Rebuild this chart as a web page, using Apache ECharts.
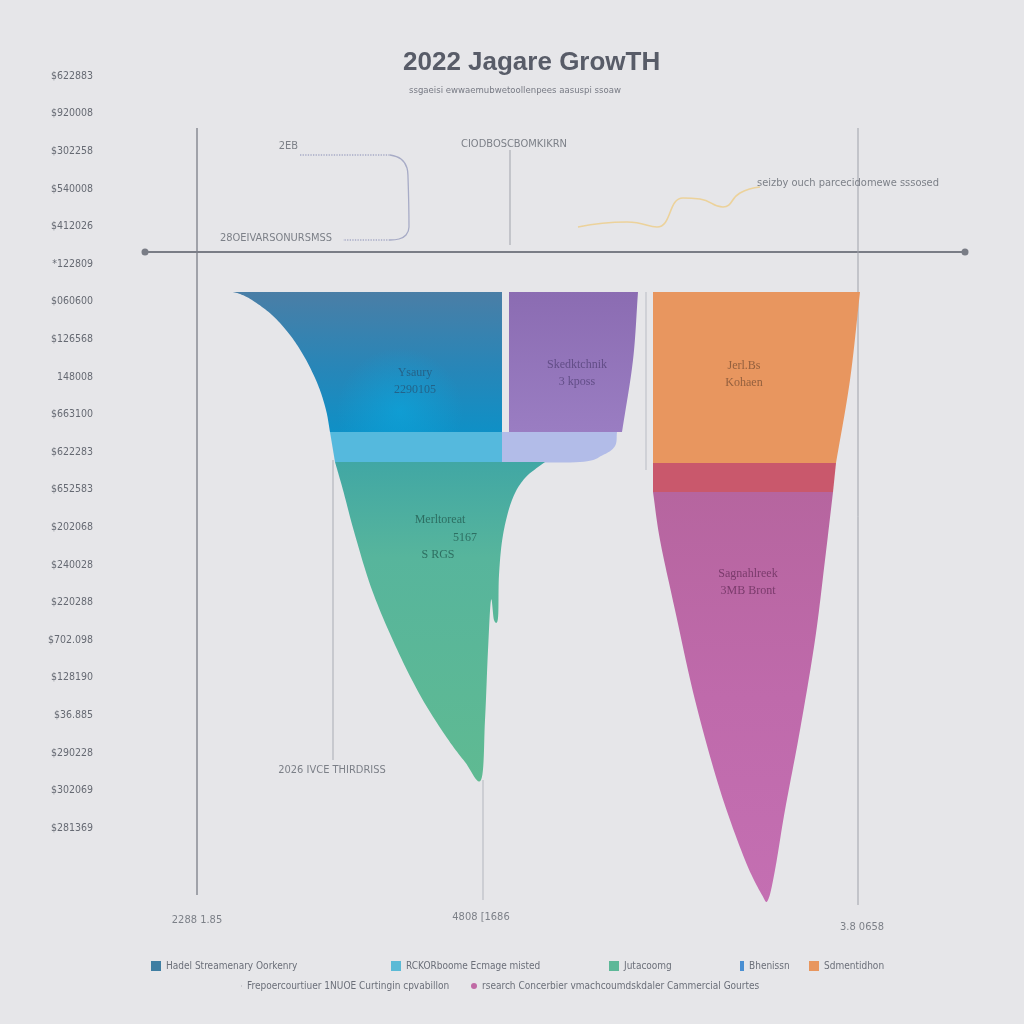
<!DOCTYPE html>
<html><head><meta charset="utf-8">
<script src="https://cdn.jsdelivr.net/npm/echarts@6/dist/echarts.min.js"></script>
<style>html,body{margin:0;padding:0;background:#e6e6e9;}#c{width:1024px;height:1024px;}</style>
</head><body><div id="c"></div>
<script>
// ---- data (x: 0..820 units across plot, y: units above/below baseline) ----
const yLabels = ["$622883","$920008","$302258","$540008","$412026","*122809","$060600","$126568","148008","$663100",
  "$622283","$652583","$202068","$240028","$220288","$702.098","$128190","$36.885","$290228","$302069","$281369"];

const shapeBlue = [[88,-40],[357,-40],[357,-180],[185,-180],[181,-158],[173,-133],[160,-106],[145,-83],[127,-63],[107,-48],[95,-42]];
const bandCyan = [[185,-180],[357,-180],[357,-210],[190,-210]];
const bandLavender = [[357,-180],[472,-180],[470,-194],[458,-203],[435,-210],[357,-210]];
const shapePurple = [[364,-40],[493,-40],[488,-108],[477,-180],[364,-180]];
const shapeGreen = [[400,-210],[380,-226],[367,-248],[358,-283],[354,-323],[353,-366],[349,-368],[346,-348],[343,-398],[340,-468],[336,-528],
  [320,-510],[300,-483],[275,-443],[250,-393],[227,-338],[210,-283],[198,-238],[190,-210]];
const shapeOrange = [[508,-40],[715,-40],[705,-128],[691,-211],[508,-211]];
const bandRed = [[508,-211],[691,-211],[688,-240],[508,-240]];
const shapePink = [[508,-240],[688,-240],[680,-308],[670,-388],[655,-478],[640,-558],[630,-618],[623,-648],[617,-643],[600,-608],[575,-538],[550,-448],[530,-358],[515,-288]];

const trendLine = [[433,25],[482,30],[493,29],[512,25],[538,54],[555,53],[578,45],[595,59],[615,65]];
const bracketCurve = [[245,97],[256,93],[262,84],[263,75],[264,25],[261,17],[254,13],[245,12]];
const bracketTop = [[155,97],[245,97]];
const bracketBottom = [[245,12],[198,12]];

const guides = [
  {pts:[[52,124],[52,-643]], color:'#7b7e87', w:1.3},
  {pts:[[713,124],[713,-653]], color:'#9fa2aa', w:1},
  {pts:[[338,-528],[338,-648]], color:'#b3b6be', w:1},
  {pts:[[365,102],[365,7]], color:'#a0a3ab', w:1},
  {pts:[[188,-208],[188,-508]], color:'#a9acb4', w:1},
  {pts:[[501,-40],[501,-218]], color:'#b9bcc4', w:1}
];

const notes = [
  {pos:[155,106], text:'2EB', side:'left'},
  {pos:[131,14], text:'28OEIVARSONURSMSS', side:'inside'},
  {pos:[369,108], text:'CIODBOSCBOMKIKRN', side:'inside'},
  {pos:[703,69], text:'seizby ouch parcecidomewe sssosed', side:'inside'},
  {pos:[187,-518], text:'2026 IVCE THIRDRISS', side:'inside'},
  {pos:[52,-668], text:'2288 1.85', side:'inside'},
  {pos:[336,-665], text:'4808 [1686', side:'inside'},
  {pos:[717,-675], text:'3.8 0658', side:'inside'}
];

const shapeLabels = [
  {pos:[270,-129], text:'Ysaury\n2290105', color:'#25587a'},
  {pos:[432,-121], text:'Skedktchnik\n3 kposs', color:'#56447a'},
  {pos:[599,-122], text:'Jerl.Bs\nKohaen', color:'#7e5236'},
  {pos:[295,-268], text:'Merltoreat', color:'#245e52'},
  {pos:[320,-286], text:'5167', color:'#245e52'},
  {pos:[293,-303], text:'S RGS', color:'#245e52'},
  {pos:[603,-330], text:'Sagnahlreek\n3MB Bront', color:'#6a2f5e'}
];

const legendNames = ['Hadel Streamenary Oorkenry','RCKORboome Ecmage misted','Jutacoomg','Bhenissn','Sdmentidhon',
  'Frepoercourtiuer 1NUOE Curtingin cpvabillon','rsearch Concerbier vmachcoumdskdaler Cammercial Gourtes'];
const legendColors = ['#3f7ea2','#5bbad6','#5db898','#4a8fd2','#e8965e','#b0b0b8','#c06aa5'];

const titleText = '2022 Jagare GrowTH';
const subtitleText = 'ssgaeisi ewwaemubwetoollenpees aasuspi ssoaw';

// ---- rendering ----
const chart = echarts.init(document.getElementById('c'), null, {renderer:'canvas'});
const FONT = '"Liberation Sans Narrow","DejaVu Sans Condensed","Liberation Sans",sans-serif';
const G = echarts.graphic;

// pixel-space outline smoothing: corner vertices stay sharp, others get Catmull-Rom curves
function smoothOutline(px, corners) {
  const n = px.length, isC = i => corners.indexOf(((i % n) + n) % n) >= 0, out = [];
  for (let i = 0; i < n; i++) {
    const a = px[i], b = px[(i + 1) % n];
    if (isC(i) && isC(i + 1)) { out.push(a); continue; }
    const prev = px[(i - 1 + n) % n], next = px[(i + 2) % n];
    const ta = isC(i) ? [b[0] - a[0], b[1] - a[1]] : [(b[0] - prev[0]) / 2, (b[1] - prev[1]) / 2];
    const tb = isC(i + 1) ? [b[0] - a[0], b[1] - a[1]] : [(next[0] - a[0]) / 2, (next[1] - a[1]) / 2];
    const c1 = [a[0] + ta[0] / 3, a[1] + ta[1] / 3], c2 = [b[0] - tb[0] / 3, b[1] - tb[1] / 3];
    for (let k = 0; k < 12; k++) {
      const t = k / 12, u = 1 - t;
      out.push([u*u*u*a[0] + 3*u*u*t*c1[0] + 3*u*t*t*c2[0] + t*t*t*b[0],
                u*u*u*a[1] + 3*u*u*t*c1[1] + 3*u*t*t*c2[1] + t*t*t*b[1]]);
    }
  }
  return out;
}

function poly(name, pts, corners, fill, z) {
  return {
    type:'custom', name:name, xAxisIndex:0, yAxisIndex:0, z:z||2, silent:true,
    data:[pts[0]],
    renderItem:function(params, api){
      const px = pts.map(p=>api.coord(p));
      return {type:'polygon', shape:{points: smoothOutline(px, corners)}, style:{fill:fill}};
    }
  };
}

const series = [
  poly(legendNames[0], shapeBlue, [0,1,2,3], new G.LinearGradient(0,0,0,1,[{offset:0,color:'#4a7ea6'},{offset:0.55,color:'#2786b8'},{offset:1,color:'#0f90c6'}])),
  poly('blueGlow', shapeBlue, [0,1,2,3], new G.RadialGradient(0.62,0.85,0.45,[{offset:0,color:'rgba(10,170,225,0.55)'},{offset:1,color:'rgba(10,170,225,0)'}]), 3),
  poly(legendNames[1], bandCyan, [0,1,2,3], '#55b9dd'),
  poly(legendNames[3], bandLavender, [0,1,5], '#b2bce8'),
  poly('purple', shapePurple, [0,1,3,4], new G.LinearGradient(0,0,0,1,[{offset:0,color:'#8b6cb2'},{offset:1,color:'#9a7dc2'}])),
  poly(legendNames[2], shapeGreen, [0,18], new G.LinearGradient(0,0,0,1,[{offset:0,color:'#41a7a4'},{offset:0.3,color:'#57b59c'},{offset:1,color:'#5fba92'}])),
  poly(legendNames[4], shapeOrange, [0,1,3,4], '#e8965f'),
  poly(legendNames[5], bandRed, [0,1,2,3], '#c9586c'),
  poly(legendNames[6], shapePink, [0,1], new G.LinearGradient(0,0,0,1,[{offset:0,color:'#b6659f'},{offset:0.5,color:'#bf6aab'},{offset:1,color:'#c46fb2'}]))
];

guides.forEach((g,i)=>series.push({type:'line', name:'guide'+i, data:g.pts, symbol:'none', silent:true, z:1,
  lineStyle:{color:g.color, width:g.w}}));

series.push({type:'line', name:'trend', data:trendLine, smooth:0.5, symbol:'none', silent:true,
  lineStyle:{color:'#ecd29b', width:1.6}});
series.push({type:'line', name:'bracketC', data:bracketCurve, smooth:0.4, symbol:'none', silent:true,
  lineStyle:{color:'#a7abc6', width:1.3}});
series.push({type:'line', name:'bracketT', data:bracketTop, symbol:'none', silent:true,
  lineStyle:{color:'#a7abc6', width:1.3, type:'dotted'}});
series.push({type:'line', name:'bracketB', data:bracketBottom, symbol:'none', silent:true,
  lineStyle:{color:'#a7abc6', width:1.3, type:'dotted'}});

series.push({type:'scatter', name:'notes', symbolSize:0, silent:true, clip:false, z:5,
  data: notes.map(n=>({value:n.pos, label:{show:true, formatter:n.text, position:n.side, distance:2,
    color:'#62666f', fontSize:11, fontFamily:FONT}}))});
series.push({type:'scatter', name:'shapeLabels', symbolSize:0, silent:true, clip:false, z:6,
  data: shapeLabels.map(n=>({value:n.pos, label:{show:true, formatter:n.text, position:'inside',
    color:n.color, fontSize:12, lineHeight:17, fontFamily:'"Liberation Serif","DejaVu Serif",serif'}}))});

const legendPos = [[146,956],[386,956],[604,956],[735,956],[804,956],[236,976],[466,976]];
const legends = legendNames.map((nm,i)=>({
  left:legendPos[i][0], top:legendPos[i][1], orient:'horizontal', selectedMode:false,
  itemWidth: i===3?4:(i===5?1:(i===6?6:10)), itemHeight: i===5?1:(i===6?6:10), itemGap:4,
  data:[{name:nm, icon: i===6?'circle':'rect', itemStyle:{color:legendColors[i]}}],
  textStyle:{color:'#6b6f79', fontSize:10, fontFamily:FONT}
}));

chart.setOption({
  backgroundColor:'#e6e6e9',
  animation:false,
  title:[
    {text:titleText, left:398, top:45, textStyle:{fontSize:26, fontWeight:'bold', color:'#585c68', fontFamily:'"Liberation Sans",sans-serif'}},
    {text:subtitleText, left:404, top:81, textStyle:{fontSize:9.5, fontWeight:'normal', color:'#777a84', fontFamily:FONT}}
  ],
  legend: legends,
  grid:[
    {left:145, top:100, width:820, height:852},
    {left:95, top:76, width:10, height:752}
  ],
  xAxis:[
    {type:'value', gridIndex:0, min:0, max:820, splitLine:{show:false}, axisTick:{show:false}, axisLabel:{show:false},
     axisLine:{show:true, onZero:true, symbol:['circle','circle'], symbolSize:[7,7], lineStyle:{color:'#7a7d86', width:2}}},
    {type:'value', gridIndex:1, show:false}
  ],
  yAxis:[
    {type:'value', gridIndex:0, min:-700, max:152, show:false},
    {type:'category', gridIndex:1, data:yLabels, inverse:true, boundaryGap:false,
     axisLine:{show:false}, axisTick:{show:false}, splitLine:{show:false},
     axisLabel:{interval:0, margin:2, color:'#666a73', fontSize:10.5, fontFamily:FONT}}
  ],
  series: series
});
</script></body></html>
